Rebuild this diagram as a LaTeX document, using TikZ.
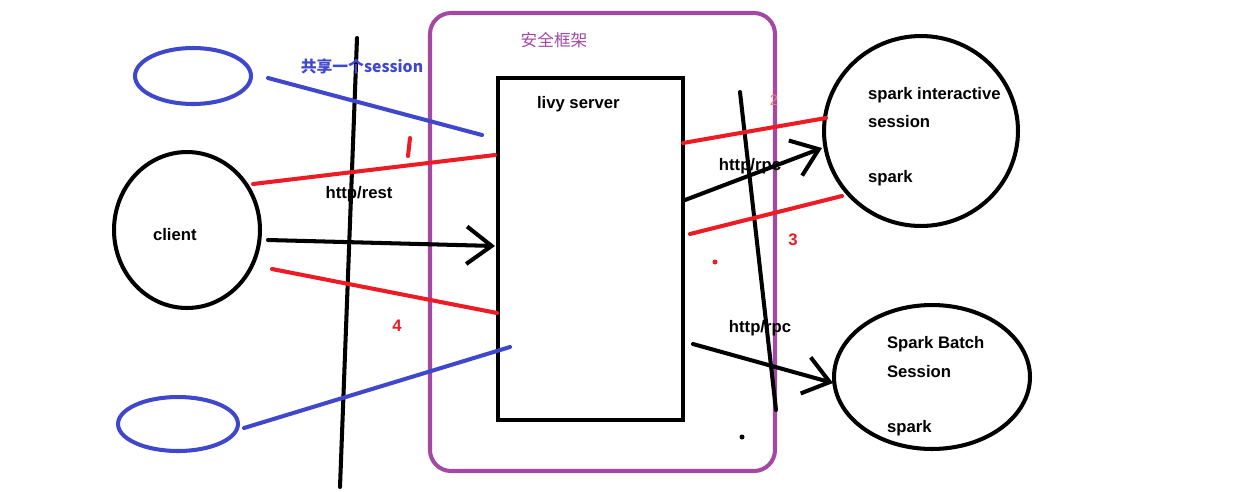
\documentclass[tikz,border=0pt]{standalone}
\usepackage{fontspec}
\setmainfont{Liberation Sans}
\newfontfamily\cjk{Noto Sans CJK SC}
\usetikzlibrary{shapes.geometric,arrows.meta}

\definecolor{frame}{HTML}{A349A4}
\definecolor{pen blue}{HTML}{3F48CC}
\definecolor{pen red}{HTML}{ED1C24}

\begin{document}
\begin{tikzpicture}[%
        x = 0.02cm,
        y = -0.02cm,
        line width = 2.3pt,
        line cap = round,
        font = \bfseries\fontsize{9.5}{11}\selectfont,
        oval/.style = {ellipse, draw, inner sep = 0pt},
        caption/.style = {anchor=west, inner sep = 0pt},
        barb/.style = {-{Straight Barb[length=0.5cm, width=0.75cm, line width=2.3pt]}}
    ]
        \useasboundingbox (0,0) rectangle (1251,491);

        % The security frame and the server box.
        \draw[frame, rounded corners=12pt] (430,13) rectangle (775,471);
        \node[frame, font=\cjk\fontsize{9.5}{11}\selectfont] (frametitle) at (554,40) {安全框架};
        \draw (498,78) rectangle (683,420);
        \node[caption] (livy) at (535,104) {livy server};

        % Clients on the left.
        \node[oval, pen blue, minimum width=2.32cm, minimum height=1.12cm] (top) at (193,76) {};
        \node[oval, minimum width=2.92cm, minimum height=3.12cm] (client) at (187,230) {};
        \node[caption] (clientname) at (151,235) {client};
        \node[oval, pen blue, minimum width=2.4cm, minimum height=1.08cm] (bottom) at (178,424) {};

        % Sessions on the right.
        \node[oval, minimum width=3.88cm, minimum height=3.8cm] (interactive) at (921,131) {};
        \node[caption] (inter1) at (866,95) {spark interactive};
        \node[caption] (inter2) at (866,122) {session};
        \node[caption] (inter3) at (866,178) {spark};
        \node[oval, minimum width=3.92cm, minimum height=2.88cm] (batch) at (932,377) {};
        \node[caption] (batch1) at (885,344) {Spark Batch};
        \node[caption] (batch2) at (885,372) {Session};
        \node[caption] (batch3) at (885,428) {spark};

        % Free ends of the strokes.
        \coordinate (b1) at (268,78);   \coordinate (b2) at (482,135);
        \coordinate (b3) at (244,428);  \coordinate (b4) at (510,347);
        \coordinate (r1) at (253,184);  \coordinate (r2) at (495,155);
        \coordinate (r3) at (272,269);  \coordinate (r4) at (497,313);
        \coordinate (r5) at (683,143);  \coordinate (r6) at (826,118);
        \coordinate (r7) at (690,234);  \coordinate (r8) at (842,196);
        \coordinate (k1) at (268,240);  \coordinate (k2) at (495,246);
        \coordinate (k3) at (685,200);  \coordinate (k4) at (822,148);
        \coordinate (k5) at (693,344);  \coordinate (k6) at (833,383);

        % Network boundaries.
        \draw (357,38) -- (340,487);
        \draw (740,92) -- (776,410);

        % Shared session and the numbered red paths.
        \draw[pen blue] (b1) -- (b2);
        \draw[pen blue] (b3) -- (b4);
        \draw[pen red] (r1) -- (r2);
        \draw[pen red] (r3) -- (r4);
        \draw[pen red] (r5) -- (r6);
        \draw[pen red] (r7) -- (r8);
        \draw[pen red] (410,138) -- (408,156);

        % Requests.
        \draw[barb] (k1) -- (k2);
        \draw[barb] (k3) -- (k4);
        \draw[barb] (k5) -- (k6);

        % Labels.
        \node[pen blue, font=\cjk\bfseries\fontsize{9}{10}\selectfont] (shared) at (362,66) {共享一个session};
        \node (rest) at (359,194) {http/rest};
        \node (rpc1) at (750,166) {http/rpc};
        \node (rpc2) at (760,328) {http/rpc};
        \node[pen red!60, font=\fontsize{8.5}{10}\selectfont] (n2) at (774,100) {2};
        \node[pen red] (n3) at (793,240) {3};
        \node[pen red] (n4) at (397,326) {4};
        \fill[pen red] (715,262) circle (2.5);
        \fill (742,437) circle (2.5);
    \end{tikzpicture}
\end{document}
